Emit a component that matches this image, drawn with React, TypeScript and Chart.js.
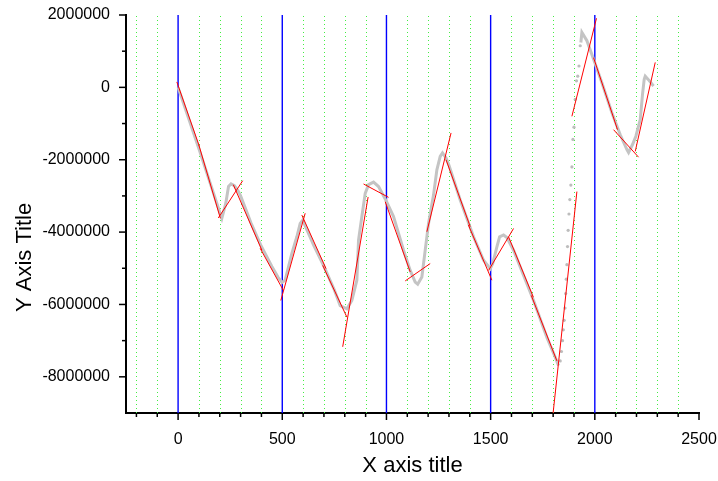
import React, { useEffect, useRef } from 'react';
import { Chart, registerables } from 'chart.js';
Chart.register(...registerables);

// ---- data ----
const curveX = [0, 100, 200, 210, 229, 242, 254, 270, 290, 300, 350, 400, 450, 480, 499, 514, 546, 570, 586, 598, 650, 700, 750, 778, 810, 834, 858, 866, 882, 898, 914, 938, 962, 1000, 1034, 1082, 1114, 1138, 1150, 1170, 1186, 1202, 1226, 1242, 1258, 1269, 1286, 1300, 1354, 1418, 1466, 1498, 1510, 1530, 1543, 1562, 1578, 1610, 1706, 1770, 1810, 1826];
const curveY = [0, -1700000, -3450000, -3620000, -3200000, -2740000, -2670000, -2720000, -2880000, -3000000, -3750000, -4400000, -4950000, -5250000, -5390000, -5330000, -4590000, -4130000, -3760000, -3670000, -4350000, -4950000, -5600000, -6030000, -6120000, -5890000, -5330000, -4220000, -3570000, -2930000, -2690000, -2620000, -2740000, -3150000, -3570000, -4500000, -5060000, -5380000, -5440000, -5240000, -4500000, -3760000, -2970000, -2280000, -1910000, -1810000, -1950000, -2150000, -3110000, -4130000, -4780000, -5010000, -4870000, -4410000, -4130000, -4080000, -4150000, -4500000, -5890000, -6910000, -7460000, -7690000];

const riseX = [1834, 1840, 1845, 1849, 1853, 1857, 1860, 1863, 1866, 1869, 1872, 1876, 1880, 1885, 1890, 1895, 1900, 1906, 1912, 1918, 1924, 1930];
const riseY = [-7560000, -7300000, -7000000, -6700000, -6440000, -6100000, -5700000, -5300000, -4900000, -4400000, -3950000, -3500000, -3100000, -2700000, -2200000, -1440000, -1100000, -330000, 180000, 310000, 590000, 1150000];

const tailX = [1933, 1938, 1962, 1994, 2034, 2082, 2122, 2154, 2162, 2181, 2197, 2218, 2229, 2237, 2242, 2256, 2282];
const tailY = [1240000, 1520000, 1290000, 780000, 130000, -700000, -1310000, -1720000, -1800000, -1580000, -1350000, -890000, -190000, 220000, 310000, 220000, 40000];

const fitStartX = [-6, 100, 193, 265, 394, 493, 594, 694, 790, 890, 994, 1090, 1194, 1286, 1393, 1490, 1586, 1695, 1798, 1890, 1994, 2090, 2194];
const fitStartY = [150000, -1600000, -3610000, -2690000, -4450000, -5890000, -3530000, -4920000, -7170000, -2670000, -3160000, -5350000, -3990000, -2000000, -3800000, -5060000, -4130000, -5750000, -9100000, -800000, 820000, -1170000, -1770000];
const fitEndX = [102, 203, 310, 402, 505, 610, 710, 810, 912, 1010, 1114, 1210, 1310, 1402, 1506, 1610, 1705, 1818, 1914, 2008, 2109, 2210, 2290];
const fitEndY = [-1630000, -3620000, -2580000, -4500000, -5610000, -3480000, -5010000, -6350000, -3030000, -3040000, -5100000, -4870000, -1260000, -3850000, -5330000, -3900000, -5800000, -7560000, -2880000, 1910000, -1170000, -1930000, 690000];

const xMajor = [0, 500, 1000, 1500, 2000, 2500];
const xMinor = [-200, -100, 100, 200, 300, 400, 600, 700, 800, 900, 1100, 1200, 1300, 1400, 1600, 1700, 1800, 1900, 2100, 2200, 2300, 2400];
const yMajor = [2000000, 0, -2000000, -4000000, -6000000, -8000000];
const yMinor = [1000000, -1000000, -3000000, -5000000, -7000000];
const blueLinesX = [0, 500, 1000, 1500, 2000];
const greenLinesX = xMinor;
const yTitleText = 'Y Axis Title';

const FONT = "'Liberation Sans', Arial, sans-serif";

const decorPlugin = {
  id: 'decor',
  beforeDatasetsDraw(chart: any) {
    const { ctx, chartArea, scales } = chart;
    const xs = scales.x;
    ctx.save();
    ctx.lineWidth = 1;
    ctx.strokeStyle = '#44ee44';
    ctx.setLineDash([1, 3]);
    greenLinesX.forEach((v) => {
      const px = Math.round(xs.getPixelForValue(v)) + 0.5;
      ctx.beginPath();
      ctx.moveTo(px, chartArea.top + 1);
      ctx.lineTo(px, chartArea.bottom);
      ctx.stroke();
    });
    ctx.setLineDash([]);
    ctx.strokeStyle = 'rgb(0, 0, 255)';
    ctx.lineWidth = 1.4;
    blueLinesX.forEach((v) => {
      const px = xs.getPixelForValue(v);
      ctx.beginPath();
      ctx.moveTo(px, chartArea.top);
      ctx.lineTo(px, chartArea.bottom);
      ctx.stroke();
    });
    ctx.restore();
  },
  afterDraw(chart: any) {
    const { ctx, chartArea, scales } = chart;
    const xs = scales.x;
    const ys = scales.y;
    ctx.save();
    ctx.strokeStyle = '#000';
    ctx.lineWidth = 1.5;
    const b = chartArea.bottom;
    const l = chartArea.left;
    const tick = (x1: number, y1: number, x2: number, y2: number) => {
      ctx.beginPath();
      ctx.moveTo(x1, y1);
      ctx.lineTo(x2, y2);
      ctx.stroke();
    };
    xMajor.forEach((v) => { const p = xs.getPixelForValue(v); tick(p, b, p, b + 7); });
    xMinor.forEach((v) => { const p = xs.getPixelForValue(v); tick(p, b, p, b + 4); });
    yMajor.forEach((v) => { const p = ys.getPixelForValue(v); tick(l, p, l - 7, p); });
    yMinor.forEach((v) => { const p = ys.getPixelForValue(v); tick(l, p, l - 4, p); });
    // y axis title, centred slightly below the axis middle as in the reference
    const cy = ys.getPixelForValue(-4700000);
    ctx.translate(25, cy);
    ctx.rotate(-Math.PI / 2);
    ctx.fillStyle = '#000';
    ctx.font = `22px ${FONT}`;
    ctx.textAlign = 'center';
    ctx.textBaseline = 'middle';
    ctx.fillText(yTitleText, 0, 0);
    ctx.restore();
  },
};

const noPad = (s: any) => {
  s.paddingLeft = 0;
  s.paddingRight = 0;
  s.paddingTop = 0;
  s.paddingBottom = 0;
};

export default function App() {
  const ref = useRef<HTMLCanvasElement | null>(null);
  useEffect(() => {
    if (!ref.current) return;
    const fitData: any[] = [];
    fitStartX.forEach((x0, i) => {
      fitData.push({ x: x0, y: fitStartY[i] });
      fitData.push({ x: fitEndX[i], y: fitEndY[i] });
      fitData.push({ x: (x0 + fitEndX[i]) / 2, y: null });
    });
    const chart = new Chart(ref.current, {
      type: 'scatter',
      data: {
        datasets: [
          {
            label: 'fits',
            data: fitData,
            showLine: true,
            spanGaps: false,
            borderColor: '#ff0000',
            borderWidth: 1,
            pointRadius: 0,
            order: 0,
          },
          {
            label: 'curve',
            data: curveX.map((x, i) => ({ x, y: curveY[i] })),
            showLine: true,
            borderColor: '#c4c4c4',
            borderWidth: 3,
            pointRadius: 0,
            order: 1,
          },
          {
            label: 'rise',
            data: riseX.map((x, i) => ({ x, y: riseY[i] })),
            showLine: false,
            backgroundColor: '#bdbdbd',
            borderWidth: 0,
            pointRadius: 1.6,
            order: 1,
          },
          {
            label: 'tail',
            data: tailX.map((x, i) => ({ x, y: tailY[i] })),
            showLine: true,
            borderColor: '#c4c4c4',
            borderWidth: 3,
            pointRadius: 0,
            order: 1,
          },
        ],
      },
      options: {
        responsive: false,
        animation: false,
        events: [],
        layout: { padding: { top: 15, right: 19, left: 0, bottom: 0 } },
        plugins: { legend: { display: false }, tooltip: { enabled: false } },
        scales: {
          x: {
            type: 'linear',
            min: -250,
            max: 2500,
            afterBuildTicks: (s: any) => { s.ticks = xMajor.map((v) => ({ value: v })); },
            afterFit: (s: any) => { s.height = 68; noPad(s); },
            grid: { display: false },
            border: { display: true, color: '#000', width: 2 },
            ticks: {
              padding: 9,
              color: '#000',
              maxRotation: 0,
              font: { family: FONT, size: 16 },
              callback: (v: any) => String(v),
            },
            title: {
              display: true,
              text: 'X axis title',
              color: '#000',
              font: { family: FONT, size: 22 },
              padding: { top: 0, bottom: 2 },
            },
          },
          y: {
            type: 'linear',
            min: -9000000,
            max: 2000000,
            afterBuildTicks: (s: any) => { s.ticks = yMajor.map((v) => ({ value: v })); },
            afterFit: (s: any) => { s.width = 126; noPad(s); },
            grid: { display: false },
            border: { display: true, color: '#000', width: 2 },
            ticks: {
              padding: 8,
              color: '#000',
              font: { family: FONT, size: 16 },
              callback: (v: any) => String(v),
            },
            title: { display: false, text: yTitleText },
          },
        },
      },
      plugins: [decorPlugin],
    });
    return () => chart.destroy();
  }, []);
  return (
    <div style={{ position: 'absolute', left: 0, top: 0, width: 718, height: 481, background: '#fff' }}>
      <canvas ref={ref} width={718} height={481} style={{ display: 'block' }} />
    </div>
  );
}
